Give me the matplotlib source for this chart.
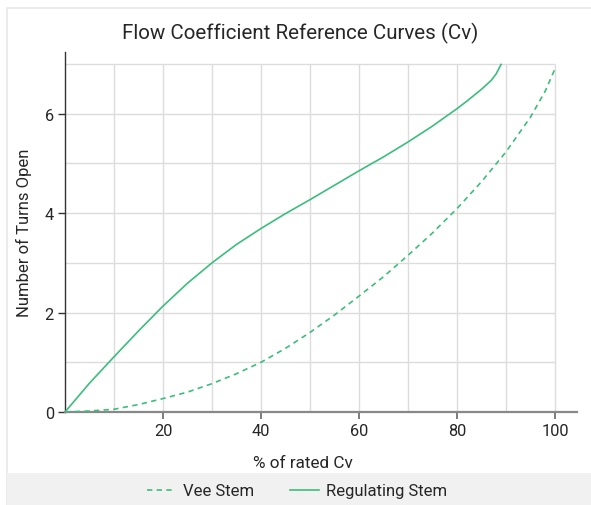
import matplotlib
matplotlib.use("Agg")
import matplotlib.pyplot as plt
from matplotlib.patches import Rectangle

plt.rcParams['font.family'] = ['Roboto', 'DejaVu Sans']

# ---- data ----
reg_x = [0, 5, 10, 15, 20, 25, 30, 35, 40, 45, 50, 55, 60, 65, 70, 75, 80, 82, 85, 87, 88, 89]
reg_y = [0, 0.58, 1.11, 1.63, 2.13, 2.59, 3.0, 3.37, 3.69, 3.99, 4.27, 4.56, 4.85, 5.13, 5.43, 5.75, 6.10, 6.25, 6.49, 6.67, 6.80, 6.99]

vee_x = [0, 5, 10, 15, 20, 25, 30, 35, 40, 45, 50, 55, 60, 65, 70, 75, 80, 85, 90, 95, 98, 100]
vee_y = [0, 0.02, 0.055, 0.15, 0.27, 0.40, 0.57, 0.77, 1.0, 1.28, 1.60, 1.95, 2.33, 2.72, 3.15, 3.60, 4.09, 4.63, 5.23, 5.93, 6.45, 6.9]

x_ticks = [20, 40, 60, 80, 100]
y_ticks = [0, 2, 4, 6]
x_grid = [10, 20, 30, 40, 50, 60, 70, 80, 90, 100]
y_grid = [1, 2, 3, 4, 5, 6, 7]

title = "Flow Coefficient Reference Curves (Cv)"
xlabel = "% of rated Cv"
ylabel = "Number of Turns Open"
series_names = ["Vee Stem", "Regulating Stem"]

color = "#3dbd7d"
txt = "#262626"
W, H = 591, 506

fig = plt.figure(figsize=(W / 100, H / 100), dpi=100)
fig.patches.append(Rectangle((7 / W, 0), 1 - 7 / W + 0.01, 1 - 9 / H, transform=fig.transFigure,
                             facecolor="none", edgecolor="#e8e8e8", linewidth=1.2, zorder=0))
fig.patches.append(Rectangle((7 / W, 0), 1 - 7 / W, (506 - 474) / H, transform=fig.transFigure,
                             facecolor="#f1f1f1", edgecolor="none", zorder=0))

ax = fig.add_axes([65 / W, (H - 413) / H, (577 - 65) / W, (413 - 53) / H])
ax.set_xlim(0, 104.5)
ax.set_ylim(0, 7.24)

ax.vlines(x_grid, 0, 7, colors="#dcdcdc", linewidth=1.0, zorder=1)
ax.hlines(y_grid, 0, 100, colors="#dcdcdc", linewidth=1.0, zorder=1)

l1, = ax.plot(vee_x, vee_y, color=color, linewidth=1.2, dashes=(3.2, 2.6), zorder=3)
l2, = ax.plot(reg_x, reg_y, color=color, linewidth=1.2, zorder=3)

for s in ["top", "right"]:
    ax.spines[s].set_visible(False)
ax.spines["left"].set_color("#333333")
ax.spines["left"].set_linewidth(1.0)
ax.spines["bottom"].set_color("#888888")
ax.spines["bottom"].set_linewidth(1.6)

ax.set_xticks(x_ticks)
ax.set_yticks(y_ticks)
ax.tick_params(axis="x", length=5, width=1.2, color="#666666", labelsize=11.8, labelcolor=txt, pad=3)
ax.tick_params(axis="y", length=5, width=1.0, color="#333333", labelsize=11.8, labelcolor=txt, pad=3)

ax.set_xlabel(xlabel, fontsize=12.3, color=txt)
ax.xaxis.set_label_coords((303 - 65) / (577 - 65), -(456 - 413) / (413 - 53))
ax.set_ylabel(ylabel, fontsize=12, color=txt)
ax.yaxis.set_label_coords(-(65 - 32) / (577 - 65), 0.5)

fig.text(300 / W, 1 - 33 / H, title, ha="center", va="center", fontsize=14.8, color=txt)

fig.legend([l1, l2], series_names, loc="center", bbox_to_anchor=(297 / W, 1 - 492 / H), ncol=2,
           frameon=False, fontsize=12, handlelength=1.7, handletextpad=0.45, columnspacing=2.2,
           labelcolor=txt)

fig.savefig("out.png", dpi=100)
